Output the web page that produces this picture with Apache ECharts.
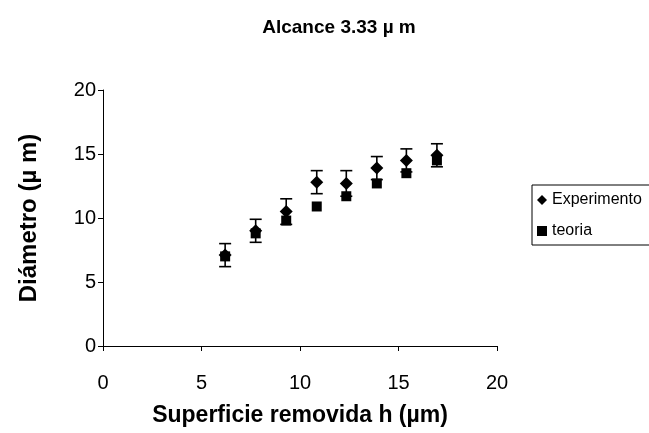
<!DOCTYPE html>
<html>
<head>
<meta charset="utf-8">
<script src="https://cdn.jsdelivr.net/npm/echarts@6/dist/echarts.min.js"></script>
<style>
html,body{margin:0;padding:0;background:#fff;}
#chart{width:649px;height:433px;}
</style>
</head>
<body>
<div id="chart"></div>
<script>
// Removed surface h (µm)
var hValues = [6.2, 7.75, 9.3, 10.85, 12.35, 13.9, 15.4, 16.95];
// Measured diameter (µm) and its uncertainty
var dExperimento = [7.1, 9.0, 10.5, 12.8, 12.7, 13.9, 14.5, 14.9];
var errExperimento = [0.9, 0.9, 1.0, 0.9, 1.0, 0.9, 0.9, 0.9];
// Theoretical diameter (µm)
var dTeoria = [7.0, 8.8, 9.8, 10.9, 11.7, 12.7, 13.5, 14.5];
var axisTicks = [0, 5, 10, 15, 20];

var font = 'Liberation Sans, Arial, sans-serif';
var chart = echarts.init(document.getElementById('chart'));

var expData = hValues.map(function (h, i) { return [h, dExperimento[i]]; });
var teoData = hValues.map(function (h, i) { return [h, dTeoria[i]]; });
var errData = hValues.map(function (h, i) {
  return [h, dExperimento[i] - errExperimento[i], dExperimento[i] + errExperimento[i]];
});

chart.setOption({
  animation: false,
  backgroundColor: '#fff',
  title: {
    text: 'Alcance 3.33 \u00b5 m',
    left: 334, top: 13, textAlign: 'center',
    textStyle: { fontFamily: font, fontSize: 19, fontWeight: 'bold', color: '#000' }
  },
  grid: { left: 103, right: 152, top: 90, bottom: 87 },
  xAxis: {
    type: 'value', min: axisTicks[0], max: axisTicks[axisTicks.length - 1], interval: 5,
    name: 'Superficie removida h (\u00b5m)', nameLocation: 'middle', nameGap: 58,
    nameTextStyle: { fontFamily: font, fontSize: 23, fontWeight: 'bold', color: '#000' },
    axisLine: { lineStyle: { color: '#000', width: 1 } },
    axisTick: { show: true, length: 5, lineStyle: { color: '#000' } },
    axisLabel: { fontFamily: font, fontSize: 20, color: '#000', margin: 27 },
    splitLine: { show: false }
  },
  yAxis: {
    type: 'value', min: axisTicks[0], max: axisTicks[axisTicks.length - 1], interval: 5,
    name: 'Di\u00e1metro (\u00b5 m)', nameLocation: 'middle', nameGap: 62, nameRotate: 90,
    nameTextStyle: { fontFamily: font, fontSize: 24, fontWeight: 'bold', color: '#000' },
    axisLine: { show: true, lineStyle: { color: '#000', width: 1 } },
    axisTick: { show: true, length: 5, lineStyle: { color: '#000' } },
    axisLabel: { fontFamily: font, fontSize: 20, color: '#000', margin: 7 },
    splitLine: { show: false }
  },
  legend: {
    orient: 'vertical', left: 532, top: 185,
    itemWidth: 10, itemHeight: 10, itemGap: 15,
    padding: [7, 40, 6, 5],
    borderColor: '#000', borderWidth: 1,
    textStyle: { fontFamily: font, fontSize: 16, color: '#000' },
    data: [{ name: 'Experimento', icon: 'diamond' }, { name: 'teoria', icon: 'rect' }]
  },
  series: [
    {
      name: 'teoria', type: 'scatter', data: teoData,
      symbol: 'rect', symbolSize: 10, z: 2,
      itemStyle: { color: '#000', opacity: 1 }
    },
    {
      name: 'errores', type: 'custom', data: errData, z: 3,
      renderItem: function (params, api) {
        var x = api.value(0);
        var lo = api.coord([x, api.value(1)]);
        var hi = api.coord([x, api.value(2)]);
        var cap = 6;
        var st = { stroke: '#000', lineWidth: 1.6 };
        return {
          type: 'group',
          children: [
            { type: 'line', shape: { x1: lo[0], y1: lo[1], x2: hi[0], y2: hi[1] }, style: st },
            { type: 'line', shape: { x1: lo[0] - cap, y1: lo[1], x2: lo[0] + cap, y2: lo[1] }, style: st },
            { type: 'line', shape: { x1: hi[0] - cap, y1: hi[1], x2: hi[0] + cap, y2: hi[1] }, style: st }
          ]
        };
      }
    },
    {
      name: 'Experimento', type: 'scatter', data: expData,
      symbol: 'diamond', symbolSize: 13, z: 4,
      itemStyle: { color: '#000', opacity: 1 }
    }
  ]
});
</script>
</body>
</html>
